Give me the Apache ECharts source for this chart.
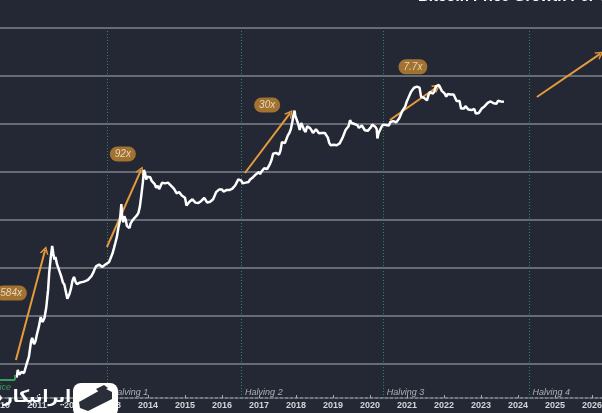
<!DOCTYPE html>
<html><head><meta charset="utf-8">
<script src="https://cdn.jsdelivr.net/npm/echarts@6/dist/echarts.min.js"></script>
<style>html,body{margin:0;padding:0;background:#232834;}#c{width:602px;height:413px;}</style>
</head><body><div id="c"></div>
<script>
// Bitcoin price (USD, log scale) by decimal year
const priceYears = [
2010.45,2010.48,2010.52,2010.58,2010.65,2010.72,2010.78,2010.84,2010.87,2010.92,2010.96,
2011.00,2011.05,2011.10,2011.15,2011.20,2011.25,2011.30,2011.33,2011.37,2011.41,2011.44,2011.47,2011.50,2011.54,2011.58,2011.62,2011.66,2011.70,2011.74,2011.78,2011.82,2011.85,2011.88,2011.92,2011.96,
2012.00,2012.04,2012.08,2012.12,2012.17,2012.22,2012.27,2012.32,2012.37,2012.42,2012.47,2012.52,2012.56,2012.60,2012.64,2012.68,2012.72,2012.76,2012.80,2012.85,2012.90,2012.95,
2013.00,2013.04,2013.08,2013.12,2013.16,2013.20,2013.24,2013.28,2013.30,2013.33,2013.36,2013.40,2013.43,2013.47,2013.50,2013.53,2013.57,2013.61,2013.65,2013.70,2013.74,2013.78,2013.82,2013.86,2013.89,2013.92,2013.95,2013.98,
2014.02,2014.06,2014.10,2014.14,2014.18,2014.22,2014.26,2014.30,2014.34,2014.38,2014.42,2014.46,2014.50,2014.54,2014.58,2014.62,2014.66,2014.70,2014.74,2014.77,2014.80,2014.84,2014.88,2014.92,2014.96,
2015.00,2015.04,2015.08,2015.12,2015.16,2015.20,2015.24,2015.28,2015.32,2015.36,2015.40,2015.44,2015.48,2015.52,2015.56,2015.60,2015.64,2015.68,2015.72,2015.76,2015.80,2015.84,2015.88,2015.92,2015.96,
2016.00,2016.04,2016.08,2016.12,2016.16,2016.20,2016.24,2016.28,2016.32,2016.36,2016.40,2016.44,2016.48,2016.52,2016.56,2016.60,2016.64,2016.68,2016.72,2016.76,2016.80,2016.84,2016.88,2016.92,2016.96,
2017.00,2017.03,2017.06,2017.10,2017.14,2017.18,2017.22,2017.26,2017.30,2017.34,2017.38,2017.42,2017.46,2017.50,2017.54,2017.58,2017.62,2017.66,2017.70,2017.74,2017.78,2017.82,2017.86,2017.90,2017.93,2017.96,2017.98,
2018.02,2018.06,2018.10,2018.14,2018.18,2018.22,2018.26,2018.30,2018.34,2018.38,2018.42,2018.46,2018.50,2018.54,2018.58,2018.62,2018.66,2018.70,2018.74,2018.78,2018.82,2018.86,2018.90,2018.94,2018.98,
2019.02,2019.06,2019.10,2019.14,2019.18,2019.22,2019.26,2019.30,2019.34,2019.38,2019.42,2019.46,2019.50,2019.54,2019.58,2019.62,2019.66,2019.70,2019.74,2019.78,2019.82,2019.86,2019.90,2019.94,2019.98,
2020.02,2020.06,2020.10,2020.14,2020.18,2020.20,2020.23,2020.27,2020.31,2020.35,2020.39,2020.43,2020.47,2020.51,2020.55,2020.59,2020.63,2020.67,2020.71,2020.75,2020.79,2020.83,2020.87,2020.91,2020.95,2020.99,
2021.03,2021.07,2021.11,2021.15,2021.19,2021.23,2021.27,2021.30,2021.34,2021.38,2021.42,2021.46,2021.50,2021.54,2021.58,2021.62,2021.66,2021.70,2021.74,2021.78,2021.82,2021.86,2021.90,2021.94,2021.98,
2022.02,2022.06,2022.10,2022.14,2022.18,2022.22,2022.26,2022.30,2022.34,2022.38,2022.42,2022.46,2022.50,2022.54,2022.58,2022.62,2022.66,2022.70,2022.74,2022.78,2022.82,2022.86,2022.90,2022.94,2022.98,
2023.02,2023.06,2023.10,2023.14,2023.18,2023.22,2023.26,2023.30,2023.34,2023.38,2023.42,2023.46,2023.50,2023.54,2023.58,2023.62
];
const priceValues = [
0.052,0.075,0.06,0.068,0.065,0.1,0.14,0.3,0.35,0.26,0.3,
0.42,0.6,0.95,0.75,0.9,1.5,3.5,8,16,29,20,15,17,12,11,8,6.5,5,4.5,3.2,2.3,2.1,2.9,3.8,5.5,
6.5,5.2,4.6,4.4,5.0,4.9,5.2,5.0,5.6,6.0,6.8,8.0,9.5,11,10.3,11.8,11.5,10.5,11.2,11.8,12.5,13.4,
14,20,26,34,45,70,95,215,120,90,120,100,75,70,68,85,95,105,110,125,140,190,330,600,1100,950,700,800,
850,780,650,620,560,470,520,440,470,600,620,580,630,600,580,520,480,450,400,360,340,380,360,320,330,
290,200,185,240,250,270,250,230,235,225,240,250,270,290,280,230,235,240,245,270,320,380,360,430,420,
430,390,380,420,410,420,430,450,450,530,580,700,650,660,580,590,600,610,620,700,740,780,770,900,960,
1000,900,1000,1050,1200,1100,1150,1250,1500,1800,2400,2600,2500,2500,2300,2800,4200,4500,4000,4800,5800,6500,7800,11000,15000,19000,15000,
14000,10000,7500,10500,9000,7500,6800,9000,9400,8200,7400,6500,6300,7800,7400,6400,6700,6500,6400,6500,6300,5200,4000,3600,3800,
3700,3450,3600,3900,3950,4100,5200,5500,7500,8000,9000,12000,10500,11500,10000,10200,9500,8300,8100,9300,8700,7400,7200,7200,7800,
8500,9700,10200,8800,7900,5000,6400,7000,8700,9700,9400,9500,9200,9300,11000,11700,11500,10600,10800,11400,13200,15500,18500,19200,23000,29000,
34000,33000,47000,50000,57000,58000,60000,55000,57000,37000,36000,35000,34000,31000,40000,46000,47000,43000,48000,61000,62000,65000,57000,49000,47000,
43000,37000,42000,39000,41000,45000,41000,38000,30000,29500,30000,21000,20000,21000,23500,22000,20000,19500,19500,19300,20500,16500,16800,17000,16600,
21000,23000,23500,22000,27500,28200,29500,28000,27000,26800,26500,30500,30200,29500,29800,29000
];
const yearLabels = [2010,2011,2012,2013,2014,2015,2016,2017,2018,2019,2020,2021,2022,2023,2024,2025,2026];
const halvingYears = [2012.9, 2016.53, 2020.36, 2024.3];
const halvingNames = ['Halving 1','Halving 2','Halving 3','Halving 4'];
const cycleNames = ['584x','92x','30x','7.7x'];
const cycleNameYears = [2010.30, 2013.32, 2017.22, 2021.16];
const cycleNameValues = [3.0, 2370, 24900, 155000];
const arrowStartYears = [2010.43, 2012.89, 2016.62, 2020.54, 2024.51];
const arrowStartValues = [0.121, 27.4, 953, 12100, 36600];
const arrowEndYears = [2011.22, 2013.81, 2017.84, 2021.81, 2026.22];
const arrowEndValues = [23.7, 1097, 16800, 59000, 289000];
const axisFloor = 0.0196, axisTop = 1e6, halvingLabelLevel = 0.025;

const chart = echarts.init(document.getElementById('c'), null, {renderer: 'canvas'});
const chevron = 'path://M0,10 L5,0 L10,10 L8.2,10 L5,3.6 L1.8,10 Z';
const orange = '#e59a3c';

chart.setOption({
  backgroundColor: '#232834',
  animation: false,
  title: {text: 'Bitcoin Price Growth Per Cycle', left: 418, top: -11, padding: 0,
    textStyle: {color: '#ffffff', fontSize: 15, fontWeight: 'bold', fontFamily: 'Liberation Sans'}},
  grid: {left: 0, right: 0, top: 28, bottom: 1, containLabel: false, outerBoundsMode: 'none'},
  xAxis: {
    type: 'value', min: 2010, max: 2026.27, interval: 1, offset: -14,
    axisLine: {show: true, lineStyle: {color: '#8d929a', width: 1.5, type: [3, 2]}},
    axisTick: {show: true, length: 3, inside: true, lineStyle: {color: '#a6abb2'}},
    splitLine: {show: false},
    axisLabel: {color: '#d2d5d9', fontSize: 9, fontWeight: 'bold', fontFamily: 'Liberation Sans', margin: 3,
      hideOverlap: false,
      formatter: v => yearLabels.indexOf(Math.round(v)) >= 0 && Math.abs(v - Math.round(v)) < 1e-6 ? String(Math.round(v)) : ''}
  },
  yAxis: {
    type: 'log', logBase: 10, min: 0.01, max: axisTop, splitNumber: 8,
    axisLine: {show: false}, axisTick: {show: false}, axisLabel: {show: false},
    splitLine: {show: true, showMinLine: false, lineStyle: {color: '#666b75', width: 2}}
  },
  series: [
    {
      type: 'line', name: 'halvings', data: [], silent: true,
      markLine: {
        silent: true, symbol: ['none', 'none'], label: {show: false},
        lineStyle: {color: '#3b8560', width: 1, type: [1, 2]},
        data: halvingYears.map(y => [{coord: [y, axisFloor]}, {coord: [y, axisTop]}])
      }
    },
    {
      type: 'line', name: 'Price', data: priceYears.map((y, i) => [y, priceValues[i]]),
      showSymbol: false, symbol: 'none', z: 5,
      lineStyle: {color: '#ffffff', width: 2.5}
    },
    {
      type: 'line', name: 'arrows', data: [], z: 6, silent: true,
      markLine: {
        silent: true, symbol: ['none', chevron], symbolSize: [9, 8], label: {show: false},
        lineStyle: {color: orange, width: 2, type: 'solid'},
        itemStyle: {color: orange},
        data: arrowStartYears.map((y, i) => [{coord: [y, arrowStartValues[i]]}, {coord: [arrowEndYears[i], arrowEndValues[i]]}])
      }
    },
    {
      type: 'scatter', name: 'cycles', z: 7, symbolSize: 1, itemStyle: {color: 'rgba(0,0,0,0)'},
      data: cycleNameYears.map((y, i) => [y, cycleNameValues[i], cycleNames[i]]),
      labelLayout: {hideOverlap: false},
      label: {show: true, position: 'inside', formatter: p => p.value[2], color: '#fbeedd',
        fontSize: 10, fontStyle: 'italic', fontFamily: 'Liberation Sans', backgroundColor: '#c18530',
        borderRadius: 8, padding: [2, 5], lineHeight: 11}
    },
    {
      type: 'scatter', name: 'halvingLabels', z: 7, symbolSize: 1, itemStyle: {color: 'rgba(0,0,0,0)'},
      data: halvingYears.map((y, i) => [y, halvingLabelLevel, halvingNames[i]]),
      labelLayout: {hideOverlap: false},
      label: {show: true, position: 'right', distance: 3, formatter: p => p.value[2], color: '#cdd0d4',
        fontSize: 9, fontStyle: 'italic', fontFamily: 'Liberation Sans'}
    }
  ],
  graphic: [
    {type: 'line', shape: {x1: 0, y1: 380, x2: 15, y2: 380}, style: {stroke: '#3c9a5c', lineWidth: 2}, z: 20},
    {type: 'line', shape: {x1: 15, y1: 375, x2: 15, y2: 380}, style: {stroke: '#3c9a5c', lineWidth: 2}, z: 20},
    {type: 'text', x: 11, y: 387, style: {text: 'Price', fill: '#3c9a5c', font: 'italic 9px Liberation Sans', textAlign: 'right', textVerticalAlign: 'middle'}, z: 20},
    {type: 'text', x: 71, y: 398, style: {text: 'ایرانیکارت', fill: '#ffffff', font: 'bold 17px DejaVu Sans', textAlign: 'right', textVerticalAlign: 'middle'}, z: 30},
    {type: 'rect', shape: {x: 73, y: 383, width: 45, height: 34, r: 8}, style: {fill: '#ffffff'}, z: 30},
    {type: 'polygon', shape: {points: [[79, 402], [104, 388], [112, 392], [112, 399], [88, 411], [80, 408]]}, style: {fill: '#2a2e38'}, z: 31},
    {type: 'polygon', shape: {points: [[96, 389], [104, 385], [108, 388], [100, 393]]}, style: {fill: '#2a2e38'}, z: 31}
  ]
});
</script></body></html>
